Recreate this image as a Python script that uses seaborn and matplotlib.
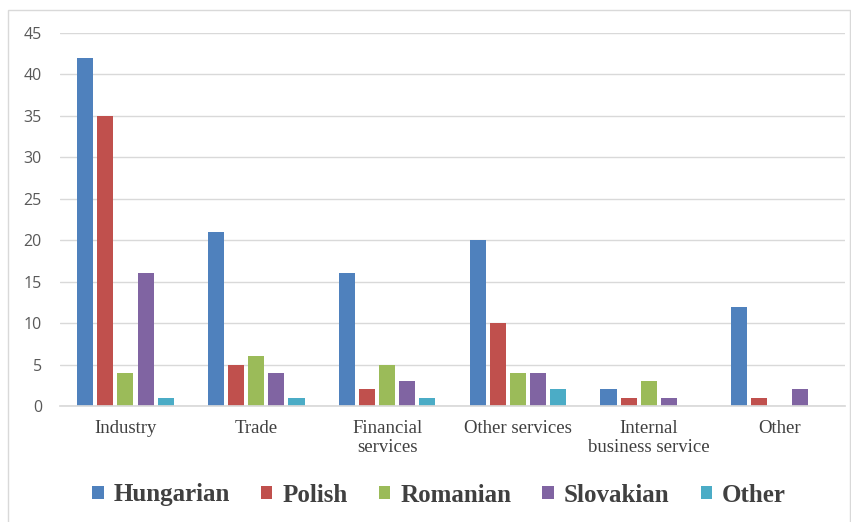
import matplotlib
matplotlib.use("Agg")
import matplotlib.pyplot as plt
import seaborn as sns
import pandas as pd
from matplotlib.patches import Rectangle, Patch

categories = ["Industry", "Trade", "Financial\nservices", "Other services",
              "Internal\nbusiness service", "Other"]
groups = ["Hungarian", "Polish", "Romanian", "Slovakian", "Other"]
hungarian = [42, 21, 16, 20, 2, 12]
polish = [35, 5, 2, 10, 1, 1]
romanian = [4, 6, 5, 4, 3, 0]
slovakian = [16, 4, 3, 4, 1, 2]
other = [1, 1, 1, 2, 0, 0]
colors = ["#4F81BD", "#C0504D", "#9BBB59", "#8064A2", "#4BACC6"]
yticks = [0, 5, 10, 15, 20, 25, 30, 35, 40, 45]

series = [hungarian, polish, romanian, slovakian, other]
rows = []
for g, vals in zip(groups, series):
    for c, v in zip(categories, vals):
        rows.append({"sector": c, "group": g, "value": v})
df = pd.DataFrame(rows)

sns.set_theme(style="white")
fig = plt.figure(figsize=(8.51, 5.22), dpi=100)
ax = fig.add_axes([60 / 851, 116 / 522, 785 / 851, 373 / 522])

sns.barplot(data=df, x="sector", y="value", hue="group", order=categories,
            hue_order=groups, palette=colors, width=0.77, gap=0.2,
            saturation=1, linewidth=0, ax=ax, legend=False)

ax.set_ylim(0, 45)
ax.set_yticks(yticks)
ax.set_xlabel("")
ax.set_ylabel("")
ax.yaxis.grid(True, color="#D9D9D9", linewidth=1)
ax.set_axisbelow(True)
for s in ["top", "right", "left"]:
    ax.spines[s].set_visible(False)
ax.spines["bottom"].set_color("#D9D9D9")
ax.tick_params(axis="y", length=0, pad=13, labelsize=11.5, labelcolor="#595959")
ax.tick_params(axis="x", length=0, pad=10)
for lbl in ax.get_yticklabels():
    lbl.set_family("Open Sans")
for lbl in ax.get_xticklabels():
    lbl.set_family("Liberation Serif")
    lbl.set_fontsize(13.5)
    lbl.set_color("#404040")
    lbl.set_linespacing(1.15)

handles = [Patch(facecolor=c, edgecolor="none") for c in colors]
fig.legend(handles, groups, loc="center", bbox_to_anchor=(439 / 851, 1 - 495 / 522),
           ncol=5, frameon=False, handlelength=0.45, handleheight=0.45,
           handletextpad=0.4, columnspacing=1.25,
           prop={"family": "Liberation Serif", "weight": "bold", "size": 18})
for t in fig.legends[0].get_texts():
    t.set_color("#404040")

# light frame: top and left edges visible, the rest runs off the canvas
fig.patches.append(Rectangle((8 / 851, -0.05), 0.99, 0.05 + 512 / 522,
                             transform=fig.transFigure, fill=False,
                             edgecolor="#D9D9D9", linewidth=1))

fig.savefig("out.png", dpi=100)
